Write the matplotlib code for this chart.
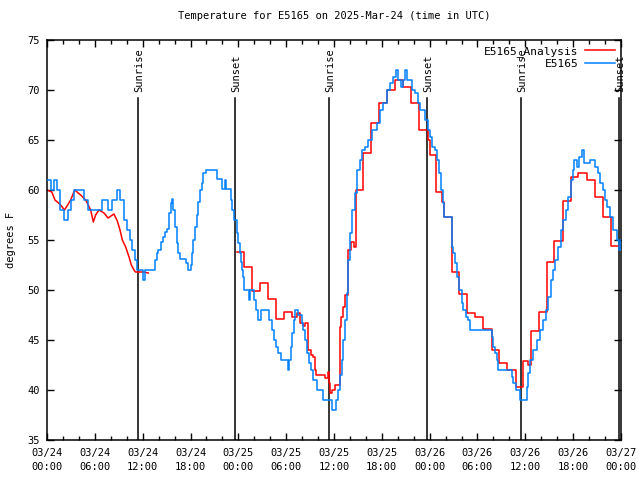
import numpy as np
import matplotlib
matplotlib.use("Agg")
import matplotlib.pyplot as plt

# hours since 03/24 00:00 UTC
obs_hours = [0.0, 0.46, 0.9, 1.3, 1.6, 2.1, 2.6, 3.0, 3.4, 4.6, 5.2, 6.9, 7.6, 8.2, 8.8,
             9.2, 9.6, 10.0, 10.4, 10.7, 11.0, 11.3, 12.0, 12.3, 13.55, 13.76, 13.97, 14.26,
             14.5, 14.8, 15.1, 15.35, 15.5, 15.7, 15.85, 16.05, 16.27, 16.47, 16.68, 17.4,
             17.65, 18.0, 18.23, 18.35, 18.56, 18.78, 18.98, 19.19, 19.4, 19.6, 19.95, 21.3,
             21.99, 22.33, 22.5, 23.04, 23.2, 23.46, 23.8, 24.0, 24.2, 24.33, 24.5, 24.6,
             24.75, 25.34, 25.46, 26.0, 26.26, 26.5, 26.84, 27.89, 28.2, 28.47, 28.77, 29.0,
             29.35, 30.2, 30.4, 30.57, 30.77, 30.95, 31.1, 31.5, 31.95, 32.15, 32.36, 32.57,
             32.86, 33.1, 33.4, 33.83, 34.66, 35.7, 36.25, 36.54, 36.75, 36.97, 37.17, 37.38,
             37.6, 37.72, 38.0, 38.22, 38.63, 38.85, 39.26, 39.47, 39.89, 40.3, 40.73, 41.36,
             41.77, 42.19, 42.61, 43.03, 43.44, 43.74, 44.07, 44.4, 44.66, 44.91, 45.1, 45.82,
             46.16, 46.5, 46.79, 47.42, 47.75, 48.04, 48.33, 48.67, 48.96, 49.21, 49.39, 49.64,
             49.8, 50.76, 50.96, 51.18, 51.39, 51.72, 52.02, 52.22, 52.56, 52.85, 53.06, 55.78,
             55.98, 56.2, 56.41, 56.61, 58.29, 58.49, 58.79, 59.33, 60.17, 60.37, 60.59, 61.0,
             61.43, 61.84, 62.26, 62.6, 62.88, 63.18, 63.51, 63.72, 64.14, 64.44, 64.76, 65.1,
             65.39, 65.69, 65.94, 66.14, 66.44, 66.77, 67.15, 67.36, 68.11, 68.74, 69.16, 69.37,
             69.7, 69.99, 70.28, 70.62, 70.98, 71.46, 71.75, 72.0]
obs_temps = [61, 60, 61, 60, 58, 57, 58, 59, 60, 59, 58, 59, 58, 59, 60,
             59, 57, 56, 55, 54, 53, 52, 51, 52, 53, 53.7, 54, 54.8,
             55.3, 55.8, 56.1, 57.7, 58.7, 59.1, 58, 56.3, 54.7, 53.7, 53.1, 52.7,
             52, 52.5, 53.7, 55, 56.3, 57.5, 58.8, 60, 60.7, 61.7, 62, 61.1,
             60.1, 61, 60.1, 59, 58, 57, 55.7, 54.7, 53.7, 52.8, 52, 51.3,
             50, 49, 50, 49, 48, 47, 48, 47, 46, 45, 44.3, 43.7,
             43, 42, 43, 44.3, 45.7, 47, 48, 47.5, 46.7, 46, 45, 43.7,
             42.7, 42, 41, 40, 39, 38, 39, 40, 41.5, 43, 45, 47,
             49.7, 53, 55.7, 58, 59.7, 62, 63, 64, 64.3, 65, 66, 66.7,
             68, 68.7, 70, 70.7, 71.3, 72, 71, 70.3, 71, 72, 71, 70,
             69.7, 68.7, 68, 67, 66, 65.3, 64.3, 64, 63, 61.7, 60, 58.7,
             57.3, 54.3, 53.7, 52.7, 51.3, 50, 48.7, 48, 47.3, 47, 46, 45.3,
             44.3, 43.7, 43, 42, 41.3, 40.7, 40, 39, 40.3, 41.7, 43, 44,
             45, 46, 47, 48, 49.3, 51, 52, 53, 54.3, 56, 57, 58,
             59.3, 61, 62, 63, 62.3, 63.3, 64, 62.7, 63, 62.3, 61.7, 60.7,
             60, 59, 58.3, 57.3, 56, 55, 54, 55]

# analysis, first piece (before the gap)
ana1_hours = [0.0, 0.6, 1.0, 1.6, 2.2, 2.97, 3.47, 4.22, 4.85, 5.48, 5.81, 6.1, 6.52,
              7.15, 7.65, 8.4, 8.82, 9.16, 9.45, 9.87, 10.29, 10.58, 10.91, 11.1, 12.17, 12.7]
ana1_temps = [60, 59.8, 59, 58.6, 58, 59, 60, 59.5, 59, 58, 56.8, 57.5, 58,
              57.7, 57.2, 57.6, 56.9, 56, 55, 54.3, 53.3, 52.5, 52, 51.8, 51.8, 51.7]

# analysis, second piece (hourly steps)
ana2_hours = [23.85, 24.71, 25.75, 26.72, 27.76, 28.73, 29.77, 30.77, 31.36, 31.74, 32.15,
              32.36, 32.78, 33.08, 33.4, 33.62, 33.74, 34.87, 35.29, 35.4, 35.5, 35.7, 36.1,
              36.72, 36.9, 37.1, 37.4, 37.7, 38.1, 38.5, 38.72, 38.75, 39.6, 40.64, 41.65,
              42.6, 43.65, 44.69, 45.66, 46.66, 47.83, 48.04, 48.76, 49.6, 49.8, 50.76,
              51.72, 52.72, 53.69, 54.73, 55.78, 56.74, 57.74, 58.79, 59.75, 60.37, 60.71,
              60.75, 61.72, 62.68, 63.64, 64.69, 65.73, 66.57, 67.7, 68.74, 69.7, 70.71, 71.75,
              72.0]
ana2_temps = [53.8, 52.3, 49.9, 50.7, 49.1, 47.1, 47.8, 47.3, 47.7, 46.7, 46.4,
              46.7, 44.0, 43.5, 43.3, 42.0, 41.5, 41.2, 41.8, 40.7, 39.7, 40.0, 40.5,
              46.3, 47.3, 48.3, 49.5, 54.0, 54.8, 54.3, 58.8, 60.0, 63.7, 66.7, 68.7,
              70.0, 71.0, 70.3, 68.7, 66.0, 65.0, 63.5, 59.8, 58.8, 57.3, 51.8,
              49.6, 47.7, 47.3, 46.1, 44.0, 42.7, 42.0, 40.3, 42.9, 42.5, 44.2,
              45.9, 47.8, 52.8, 54.9, 58.9, 61.3, 61.7, 61.0, 59.3, 57.3, 54.4, 54.4,
              54.4]

sun_hours = [11.42, 23.58, 35.37, 47.67, 59.46, 71.8]
sun_labels = ["Sunrise", "Sunset", "Sunrise", "Sunset", "Sunrise", "Sunset"]

tick_hours = list(range(0, 73, 6))
tick_labels = ["03/24\n00:00", "03/24\n06:00", "03/24\n12:00", "03/24\n18:00",
               "03/25\n00:00", "03/25\n06:00", "03/25\n12:00", "03/25\n18:00",
               "03/26\n00:00", "03/26\n06:00", "03/26\n12:00", "03/26\n18:00",
               "03/27\n00:00"]

plt.rcParams['font.family'] = ['DejaVu Sans Mono']
plt.rcParams['font.size'] = 7.5

fig = plt.figure(figsize=(6.4, 4.8), dpi=100)
ax = fig.add_axes([47 / 640, 40 / 480, 574 / 640, 400 / 480])

for h, lab in zip(sun_hours, sun_labels):
    ax.plot([h, h], [35, 69.2], color="black", lw=1.1, zorder=1)
    ax.text(h + 0.15, 69.8, lab, rotation=90, ha="center", va="bottom",
            fontsize=7.5, clip_on=False)

ax.plot(ana1_hours, ana1_temps, color="#ff0000", lw=1.1, label="E5165_Analysis", zorder=2)
ax.plot(ana2_hours, ana2_temps, color="#ff0000", lw=1.1, drawstyle="steps-post", zorder=2)
ax.plot(obs_hours, obs_temps, color="#0080ff", lw=1.1, drawstyle="steps-post",
        label="E5165", zorder=3)

ax.set_xlim(0, 72)
ax.set_ylim(35, 75)
ax.set_xticks(tick_hours)
ax.set_xticklabels(tick_labels, linespacing=1.45)
ax.set_xticks(range(0, 73, 2), minor=True)
ax.set_yticks(range(35, 76, 5))
ax.tick_params(direction="in", top=True, right=True, length=5, width=1)
ax.tick_params(axis="x", pad=6)
ax.tick_params(axis="y", pad=5)
ax.tick_params(which="minor", direction="in", top=True, right=False, length=3, width=1)
for s in ax.spines.values():
    s.set_linewidth(1.1)

ax.set_ylabel("degrees F", labelpad=8)
ax.set_title("Temperature for E5165 on 2025-Mar-24 (time in UTC)", fontsize=7.5, pad=15)

ax.legend(loc="upper right", frameon=False, markerfirst=False, handlelength=2.7,
          borderaxespad=0.15, labelspacing=0.2, handletextpad=0.6, fontsize=8)

fig.savefig("out.png", dpi=100)
